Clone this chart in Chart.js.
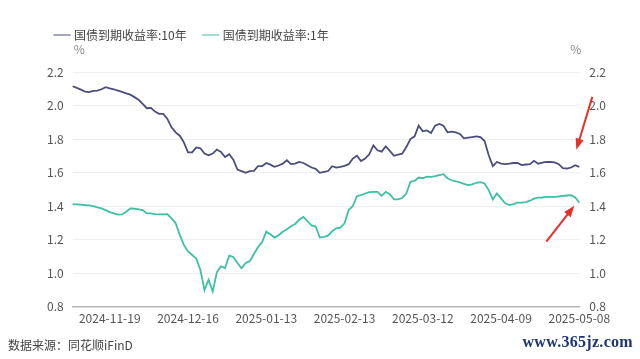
<!DOCTYPE html>
<html>
<head>
<meta charset="utf-8">
<script src="https://cdn.jsdelivr.net/npm/chart.js@4.4.1/dist/chart.umd.min.js"></script>
<style>
  html, body { margin: 0; padding: 0; background: #fff; }
  #wrap { position: relative; width: 640px; height: 359px; overflow: hidden; }
  #source { position: absolute; left: 8px; top: 336px; font: 12px "Noto Sans CJK SC", sans-serif; color: #444; }
  #mark { position: absolute; right: 7px; top: 333px; font: bold 16px "Liberation Serif", serif; color: #1d3570; letter-spacing: 0.3px; }
</style>
</head>
<body>
<div id="wrap">
  <canvas id="chart"></canvas>
  <div id="source">数据来源：同花顺iFinD</div>
  <div id="mark">www.365jz.com</div>
</div>
<script>
"use strict";

// ~ trading days (interbank, incl. make-up workdays)
const dates = [
  "2024-11-06", "2024-11-07", "2024-11-08", "2024-11-11", "2024-11-12", "2024-11-13", "2024-11-14", "2024-11-15",
  "2024-11-18", "2024-11-19", "2024-11-20", "2024-11-21", "2024-11-22", "2024-11-25", "2024-11-26", "2024-11-27",
  "2024-11-28", "2024-11-29", "2024-12-02", "2024-12-03", "2024-12-04", "2024-12-05", "2024-12-06", "2024-12-09",
  "2024-12-10", "2024-12-11", "2024-12-12", "2024-12-13", "2024-12-16", "2024-12-17", "2024-12-18", "2024-12-19",
  "2024-12-20", "2024-12-23", "2024-12-24", "2024-12-25", "2024-12-26", "2024-12-27", "2024-12-30", "2024-12-31",
  "2025-01-02", "2025-01-03", "2025-01-06", "2025-01-07", "2025-01-08", "2025-01-09", "2025-01-10", "2025-01-13",
  "2025-01-14", "2025-01-15", "2025-01-16", "2025-01-17", "2025-01-20", "2025-01-21", "2025-01-22", "2025-01-23",
  "2025-01-24", "2025-01-26", "2025-01-27", "2025-02-05", "2025-02-06", "2025-02-07", "2025-02-08", "2025-02-10",
  "2025-02-11", "2025-02-12", "2025-02-13", "2025-02-14", "2025-02-17", "2025-02-18", "2025-02-19", "2025-02-20",
  "2025-02-21", "2025-02-24", "2025-02-25", "2025-02-26", "2025-02-27", "2025-02-28", "2025-03-03", "2025-03-04",
  "2025-03-05", "2025-03-06", "2025-03-07", "2025-03-10", "2025-03-11", "2025-03-12", "2025-03-13", "2025-03-14",
  "2025-03-17", "2025-03-18", "2025-03-19", "2025-03-20", "2025-03-21", "2025-03-24", "2025-03-25", "2025-03-26",
  "2025-03-27", "2025-03-28", "2025-03-31", "2025-04-01", "2025-04-02", "2025-04-03", "2025-04-07", "2025-04-08",
  "2025-04-09", "2025-04-10", "2025-04-11", "2025-04-14", "2025-04-15", "2025-04-16", "2025-04-17", "2025-04-18",
  "2025-04-21", "2025-04-22", "2025-04-23", "2025-04-24", "2025-04-25", "2025-04-27", "2025-04-28", "2025-04-29",
  "2025-04-30", "2025-05-06", "2025-05-07", "2025-05-08"
];

// * 国债到期收益率:10年 (%)
const yield10y = [
  2.115, 2.105, 2.095, 2.083, 2.080, 2.087, 2.089, 2.097, 2.109, 2.103,
  2.097, 2.089, 2.081, 2.073, 2.065, 2.050, 2.034, 2.010, 1.984, 1.986,
  1.964, 1.950, 1.950, 1.920, 1.870, 1.840, 1.820, 1.780, 1.720, 1.720,
  1.750, 1.745, 1.713, 1.703, 1.713, 1.737, 1.723, 1.693, 1.709, 1.677,
  1.618, 1.608, 1.598, 1.608, 1.610, 1.638, 1.638, 1.657, 1.647, 1.634,
  1.642, 1.653, 1.673, 1.650, 1.653, 1.663, 1.657, 1.644, 1.630, 1.622,
  1.598, 1.604, 1.609, 1.638, 1.630, 1.634, 1.640, 1.650, 1.683, 1.700,
  1.669, 1.683, 1.709, 1.762, 1.733, 1.725, 1.756, 1.729, 1.700, 1.707,
  1.713, 1.752, 1.800, 1.816, 1.880, 1.846, 1.851, 1.836, 1.880, 1.890,
  1.880, 1.840, 1.844, 1.840, 1.830, 1.804, 1.808, 1.812, 1.816, 1.812,
  1.788, 1.703, 1.638, 1.663, 1.653, 1.650, 1.653, 1.657, 1.657, 1.644,
  1.648, 1.650, 1.670, 1.653, 1.659, 1.663, 1.663, 1.661, 1.650, 1.626,
  1.624, 1.630, 1.644, 1.634
];

// * 国债到期收益率:1年 (%)
const yield1y = [
  1.412, 1.410, 1.408, 1.406, 1.404, 1.400, 1.392, 1.386, 1.376, 1.364,
  1.356, 1.349, 1.350, 1.366, 1.386, 1.384, 1.380, 1.376, 1.356, 1.356,
  1.352, 1.350, 1.350, 1.352, 1.327, 1.297, 1.228, 1.168, 1.129, 1.108,
  1.087, 1.020, 0.898, 0.960, 0.890, 1.005, 1.040, 1.030, 1.104, 1.096,
  1.060, 1.028, 1.060, 1.071, 1.114, 1.155, 1.185, 1.247, 1.232, 1.212,
  1.226, 1.247, 1.262, 1.280, 1.293, 1.318, 1.335, 1.310, 1.284, 1.278,
  1.212, 1.216, 1.223, 1.250, 1.267, 1.271, 1.297, 1.376, 1.400, 1.459,
  1.465, 1.475, 1.483, 1.485, 1.485, 1.461, 1.485, 1.471, 1.440, 1.440,
  1.448, 1.475, 1.545, 1.550, 1.570, 1.566, 1.576, 1.574, 1.578, 1.584,
  1.590, 1.566, 1.554, 1.548, 1.541, 1.533, 1.525, 1.529, 1.539, 1.543,
  1.535, 1.495, 1.440, 1.475, 1.446, 1.416, 1.406, 1.412, 1.420, 1.420,
  1.424, 1.432, 1.444, 1.450, 1.451, 1.455, 1.455, 1.455, 1.457, 1.461,
  1.463, 1.465, 1.451, 1.420
];

const seriesNames = ["国债到期收益率:10年", "国债到期收益率:1年"];
const seriesColors = ["#4a4d7f", "#3fbfa6"];
const tickLabels = ["2024-11-19", "2024-12-16", "2025-01-13", "2025-02-13", "2025-03-12", "2025-04-09", "2025-05-08"];
const yTicks = [0.8, 1.0, 1.2, 1.4, 1.6, 1.8, 2.0, 2.2];

const FONT = "'Noto Sans CJK SC', 'Noto Sans', sans-serif";

// legend spacing below
const legendGap = {
  id: "legendGap",
  beforeInit(chart) {
    const fit = chart.legend.fit;
    chart.legend.fit = function () {
      fit.bind(chart.legend)();
      this.height += 21;
    };
  },
};

// "%" units + red arrows
const extras = {
  id: "extras",
  afterDraw(chart) {
    const { ctx, chartArea, scales } = chart;
    ctx.save();
    ctx.font = "12px " + FONT;
    ctx.fillStyle = "#888";
    ctx.textBaseline = "middle";
    ctx.textAlign = "left";
    ctx.fillText("%", chartArea.left + 1, chartArea.top - 23);
    ctx.textAlign = "right";
    ctx.fillText("%", chartArea.right + 2, chartArea.top - 23);

    const last = dates.length - 1;
    const xl = scales.x.getPixelForValue(last);
    const y10 = scales.y.getPixelForValue(yield10y[last]);
    const y1 = scales.y.getPixelForValue(yield1y[last]);
    drawArrow(ctx, xl + 13, y10 - 70, xl - 3, y10 - 17);
    drawArrow(ctx, xl - 33, y1 + 39, xl - 5, y1 + 3);
    ctx.restore();
  },
};

function drawArrow(ctx, x0, y0, x1, y1) {
  const ang = Math.atan2(y1 - y0, x1 - x0);
  const len = 12;
  ctx.strokeStyle = "#e8302a";
  ctx.fillStyle = "#e8302a";
  ctx.lineWidth = 2;
  ctx.beginPath();
  ctx.moveTo(x0, y0);
  ctx.lineTo(x1 - Math.cos(ang) * len * 0.7, y1 - Math.sin(ang) * len * 0.7);
  ctx.stroke();
  ctx.beginPath();
  ctx.moveTo(x1, y1);
  ctx.lineTo(x1 - len * Math.cos(ang - 0.35), y1 - len * Math.sin(ang - 0.35));
  ctx.lineTo(x1 - len * Math.cos(ang + 0.35), y1 - len * Math.sin(ang + 0.35));
  ctx.closePath();
  ctx.fill();
}

const yAxis = (position) => ({
  position: position,
  min: 0.8,
  max: 2.2,
  afterBuildTicks: (axis) => {
    axis.ticks = yTicks.map((v) => ({ value: v }));
  },
  border: { display: false },
  grid: { display: position === "left", color: "#efefef", drawTicks: false },
  ticks: {
    padding: position === "left" ? 9 : 10,
    color: "#555",
    font: { size: 12, family: FONT },
    callback: (v) => v.toFixed(1),
  },
});

new Chart(document.getElementById("chart"), {
  type: "line",
  data: {
    labels: dates,
    datasets: [
      { label: seriesNames[0], data: yield10y, borderColor: seriesColors[0], backgroundColor: seriesColors[0], yAxisID: "y" },
      { label: seriesNames[1], data: yield1y, borderColor: seriesColors[1], backgroundColor: seriesColors[1], yAxisID: "y" },
    ],
  },
  options: {
    responsive: true,
    maintainAspectRatio: false,
    animation: false,
    layout: { padding: { left: 38, right: 24, top: 11, bottom: 28 } },
    elements: {
      line: { borderWidth: 1.8, tension: 0 },
      point: { radius: 0, hoverRadius: 0 },
    },
    scales: {
      x: {
        offset: false,
        border: { display: true, color: "#b5b5b5", width: 1.5 },
        grid: { display: false, drawTicks: false },
        ticks: {
          autoSkip: false,
          maxRotation: 0,
          padding: 5,
          color: "#555",
          font: { size: 12, family: FONT },
          callback: function (value, index) {
            const d = dates[index];
            return tickLabels.includes(d) ? d : null;
          },
        },
      },
      y: yAxis("left"),
      y1: yAxis("right"),
    },
    plugins: {
      legend: {
        position: "top",
        align: "start",
        labels: {
          usePointStyle: true,
          pointStyle: "line",
          boxWidth: 16,
          padding: 18,
          color: "#444",
          font: { size: 12, family: FONT },
        },
      },
      tooltip: { enabled: false },
    },
  },
  plugins: [legendGap, extras],
});
</script>
</body>
</html>
